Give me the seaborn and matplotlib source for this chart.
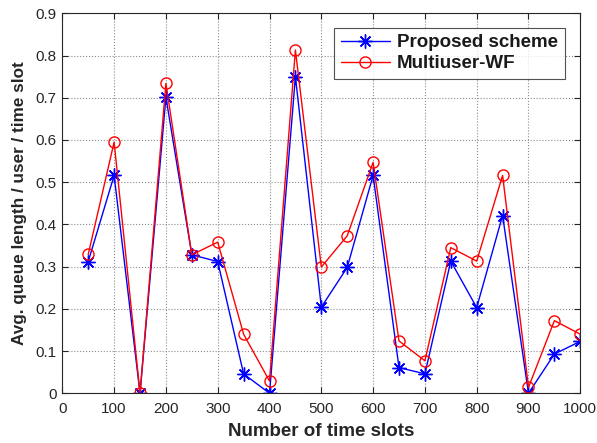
import matplotlib
matplotlib.use("Agg")
import matplotlib.pyplot as plt
import seaborn as sns
import pandas as pd

slots = [50, 100, 150, 200, 250, 300, 350, 400, 450, 500,
         550, 600, 650, 700, 750, 800, 850, 900, 950, 1000]
proposed = [0.312, 0.516, 0.0, 0.701, 0.328, 0.312, 0.046, 0.0, 0.750, 0.204,
            0.298, 0.516, 0.061, 0.046, 0.313, 0.203, 0.421, 0.0, 0.093, 0.123]
multiuser_wf = [0.329, 0.595, 0.0, 0.734, 0.328, 0.358, 0.140, 0.029, 0.813, 0.299,
                0.373, 0.547, 0.124, 0.077, 0.345, 0.313, 0.516, 0.014, 0.172, 0.140]
series_names = ["Proposed scheme", "Multiuser-WF"]
xticks = list(range(0, 1001, 100))
yticks = [i / 10 for i in range(0, 10)]

sns.set_theme(style="white")
plt.rcParams['font.family'] = ['Liberation Sans', 'DejaVu Sans']

df = pd.DataFrame({"slots": slots, series_names[0]: proposed, series_names[1]: multiuser_wf})

fig = plt.figure(figsize=(5.97, 4.43), dpi=100)
ax = fig.add_axes([0.1044, 0.1122, 0.8676, 0.8578])

sns.lineplot(data=df, x="slots", y=series_names[0], ax=ax, color="#0000ff",
             marker=(8, 2, 0), markersize=10, markeredgecolor="#0000ff",
             markeredgewidth=1.0, linewidth=1.0, label=series_names[0])
sns.lineplot(data=df, x="slots", y=series_names[1], ax=ax, color="#ff0000",
             marker="o", markersize=8, markerfacecolor="none", markeredgecolor="#ff0000",
             markeredgewidth=1.0, linewidth=1.0, label=series_names[1])

ax.set_xlim(0, 1000)
ax.set_ylim(0, 0.9)
ax.set_xticks(xticks)
ax.set_yticks(yticks)
ax.set_xticklabels([str(t) for t in xticks], fontsize=11, color="#262626")
ax.set_yticklabels([f"{t:g}" for t in yticks], fontsize=11, color="#262626")
ax.tick_params(direction="in", length=4, width=0.8, top=True, right=True,
               bottom=True, left=True, colors="#262626", pad=4)
ax.tick_params(axis="x", pad=6)
ax.grid(True, linestyle=":", color="#8c8c8c", linewidth=0.8)
for s in ax.spines.values():
    s.set_color("#262626")
    s.set_linewidth(0.8)

ax.set_xlabel("Number of time slots", fontsize=13.5, fontweight="bold", labelpad=5,
              color="#262626")
ax.set_ylabel("Avg. queue length / user / time slot", fontsize=12.3, fontweight="bold",
              labelpad=6, color="#262626")

leg = ax.legend(loc="upper right", bbox_to_anchor=(0.970, 0.962),
                prop={"weight": "bold", "size": 13.5}, frameon=True, fancybox=False,
                edgecolor="#262626", handlelength=2.6, borderpad=0.35, labelspacing=0.2,
                handletextpad=0.4, borderaxespad=0)
leg.get_frame().set_linewidth(0.8)
for t in leg.get_texts():
    t.set_color("#1a1a1a")

fig.savefig("out.png", dpi=100)
